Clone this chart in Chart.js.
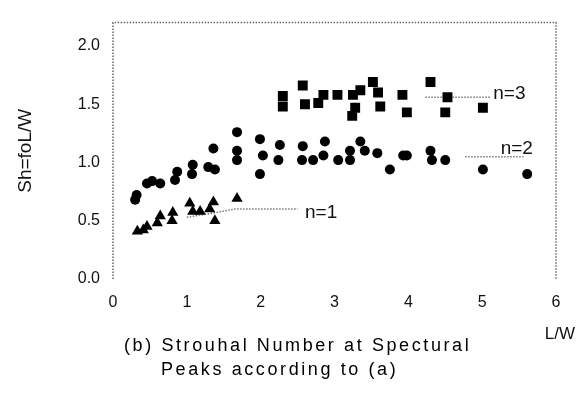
<!DOCTYPE html>
<html>
<head>
<meta charset="utf-8">
<script src="https://cdn.jsdelivr.net/npm/chart.js@4"></script>
<style>
    body { margin: 0; background: #fff; }
    #wrap { position: relative; width: 581px; height: 396px; }
    .cap {
        position: absolute;
        font-family: "Liberation Sans", Arial, sans-serif;
        font-size: 18px;
        letter-spacing: 2.6px;
        color: #000;
        white-space: nowrap;
    }
</style>
</head>
<body>
<div id="wrap">
    <canvas id="chart"></canvas>
    <div class="cap" style="left:124px; top:335px;">(b) Strouhal Number at Spectural</div>
    <div class="cap" style="left:161px; top:359px;">Peaks according to (a)</div>
</div>
<script>
// ============================================
// Strouhal number vs L/W
// ============================================

// n=3 peaks (squares)
const n3X = [2.30, 2.30, 2.57, 2.60, 2.78, 2.85, 3.04, 3.25, 3.35, 3.28, 3.24, 3.52, 3.59, 3.62, 3.92, 3.98, 4.30, 4.53, 4.50, 5.01];
const n3Y = [1.57, 1.48, 1.66, 1.50, 1.51, 1.58, 1.58, 1.58, 1.62, 1.47, 1.40, 1.69, 1.60, 1.48, 1.58, 1.43, 1.69, 1.56, 1.43, 1.47];

// n=2 peaks (circles)
const n2X = [0.30, 0.32, 0.46, 0.53, 0.64, 0.84, 0.87, 1.07, 1.08, 1.29, 1.38, 1.36, 1.68, 1.68, 1.68, 1.99, 2.03, 1.99, 2.26, 2.24,
             2.57, 2.56, 2.71, 2.87, 2.85, 3.05, 3.21, 3.21, 3.35, 3.41, 3.58, 3.75, 3.93, 3.98, 4.30, 4.32, 4.50, 5.01, 5.61];
const n2Y = [0.68, 0.72, 0.82, 0.84, 0.82, 0.85, 0.92, 0.90, 0.98, 0.96, 0.94, 1.12, 1.26, 1.10, 1.02, 1.20, 1.06, 0.90, 1.15, 1.02,
             1.14, 1.02, 1.02, 1.18, 1.06, 1.02, 1.10, 1.02, 1.18, 1.10, 1.08, 0.94, 1.06, 1.06, 1.10, 1.02, 1.02, 0.94, 0.90];

// n=1 peaks (triangles)
const n1X = [0.33, 0.41, 0.46, 0.60, 0.64, 0.80, 0.81, 1.04, 1.08, 1.18, 1.31, 1.36, 1.38, 1.68];
const n1Y = [0.41, 0.42, 0.45, 0.48, 0.54, 0.50, 0.57, 0.65, 0.58, 0.58, 0.60, 0.66, 0.50, 0.69];

// leader lines to the n= labels
const lead3X = [4.23, 5.11];
const lead3Y = [1.56, 1.56];
const lead2X = [4.77, 5.56];
const lead2Y = [1.05, 1.05];
const lead1X = [1.00, 1.30, 1.65, 2.50];
const lead1Y = [0.53, 0.56, 0.60, 0.60];

const xTicks = [0, 1, 2, 3, 4, 5, 6];
const yTicks = [0.0, 0.5, 1.0, 1.5, 2.0];

const FONT = '"Liberation Sans", Arial, sans-serif';

const pts = (xs, ys) => xs.map((x, i) => ({ x: x, y: ys[i] }));

const leader = (xs, ys) => ({
    type: 'line',
    data: pts(xs, ys),
    borderColor: '#777',
    borderWidth: 1.5,
    borderDash: [1.5, 1.5],
    pointRadius: 0,
    showLine: true,
    fill: false
});

// dotted frame (left, top, right) and the n= labels
const framePlugin = {
    id: 'frame',
    afterDraw(chart) {
        const { ctx, chartArea: a, scales } = chart;
        ctx.save();
        ctx.strokeStyle = '#666';
        ctx.lineWidth = 1.5;
        ctx.setLineDash([1.5, 1.5]);
        ctx.beginPath();
        ctx.moveTo(a.left, a.bottom);
        ctx.lineTo(a.left, a.top);
        ctx.lineTo(a.right, a.top);
        ctx.lineTo(a.right, a.bottom);
        ctx.stroke();
        ctx.setLineDash([]);

        ctx.fillStyle = '#111';
        ctx.font = '19px ' + FONT;
        ctx.textBaseline = 'middle';
        ctx.textAlign = 'left';
        const lbl = (t, x, y) => ctx.fillText(t, scales.x.getPixelForValue(x), scales.y.getPixelForValue(y));
        lbl('n=3', 5.15, 1.59);
        lbl('n=2', 5.25, 1.12);
        lbl('n=1', 2.60, 0.57);

        // x axis title
        ctx.font = '17px ' + FONT;
        ctx.textAlign = 'right';
        ctx.fillText('L/W', 575, 334);
        ctx.restore();
    }
};

new Chart(document.getElementById('chart'), {
    type: 'scatter',
    data: {
        datasets: [
            { label: 'n=3', data: pts(n3X, n3Y), pointStyle: 'rect', pointRadius: 7, backgroundColor: '#000', borderColor: '#000', borderWidth: 0 },
            { label: 'n=2', data: pts(n2X, n2Y), pointStyle: 'circle', pointRadius: 5, backgroundColor: '#000', borderColor: '#000', borderWidth: 0 },
            { label: 'n=1', data: pts(n1X, n1Y), pointStyle: 'triangle', pointRadius: 6.5, backgroundColor: '#000', borderColor: '#000', borderWidth: 0 },
            leader(lead3X, lead3Y),
            leader(lead2X, lead2Y),
            leader(lead1X, lead1Y)
        ]
    },
    options: {
        responsive: true,
        maintainAspectRatio: false,
        animation: false,
        events: [],
        layout: { padding: { left: 0, top: 8, right: 25, bottom: 0 } },
        plugins: {
            legend: { display: false },
            tooltip: { enabled: false }
        },
        scales: {
            x: {
                type: 'linear',
                min: 0,
                max: 6,
                afterBuildTicks: s => { s.ticks = xTicks.map(v => ({ value: v })); },
                afterFit: s => { s.height = 117; },
                grid: { display: false, drawTicks: false },
                border: { display: false },
                ticks: {
                    color: '#111',
                    padding: 14,
                    maxRotation: 0,
                    font: { family: FONT, size: 16 },
                    callback: v => String(v)
                }
            },
            y: {
                type: 'linear',
                min: 0,
                max: 2.2,
                afterBuildTicks: s => { s.ticks = yTicks.map(v => ({ value: v })); },
                afterFit: s => { s.width = 113; },
                grid: { display: false, drawTicks: false },
                border: { display: false },
                ticks: {
                    color: '#111',
                    padding: 13,
                    font: { family: FONT, size: 16 },
                    callback: v => v.toFixed(1)
                },
                title: {
                    display: true,
                    text: 'Sh=foL/W',
                    color: '#111',
                    padding: { top: 14, bottom: 0 },
                    font: { family: FONT, size: 19 }
                }
            }
        }
    },
    plugins: [framePlugin]
});
</script>
</body>
</html>
